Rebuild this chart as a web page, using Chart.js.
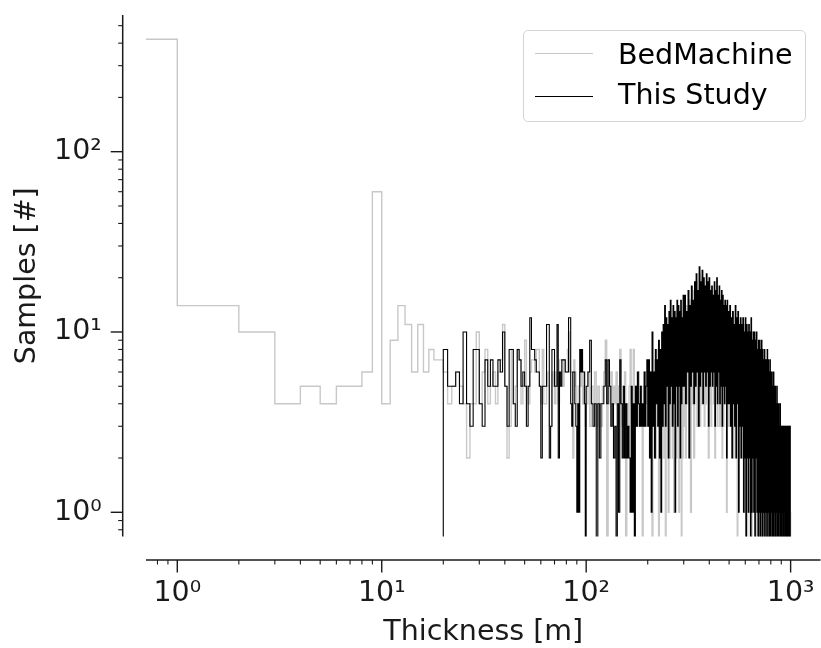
<!DOCTYPE html>
<html>
<head>
<meta charset="utf-8">
<title>Thickness histogram</title>
<script src="https://cdn.jsdelivr.net/npm/chart.js@4.4.1/dist/chart.umd.min.js"></script>
<style>
  html, body { margin:0; padding:0; background:#fff; }
  #wrap { position:relative; width:821px; height:648px; overflow:hidden; }
  #legend { position:absolute; left:523px; top:30px; width:283px; height:92px; box-sizing:border-box;
            border:1.3px solid #d4d4d4; border-radius:5px; background:rgba(255,255,255,0.8);
            font-family:"DejaVu Sans", sans-serif; font-size:28.5px; color:#000; }
  .sw { position:absolute; left:11px; width:58px; height:0; }
  .lab { position:absolute; left:94px; line-height:28px; white-space:nowrap; }
</style>
</head>
<body>
<div id="wrap">
  <canvas id="c" width="821" height="648"></canvas>
  <div id="legend"></div>
</div>
<script>
// ---------------- data ----------------
const seriesNames = ['BedMachine', 'This Study'];
const seriesColors = ['#c8c8c8', '#000000'];

const xTickValues = [1, 10, 100, 1000];
const xTickLabels = ['10⁰', '10¹', '10²', '10³'];
const yTickValues = [1, 10, 100];
const yTickLabels = ['10⁰', '10¹', '10²'];

function range(a, b, s) { const r = []; for (let v = a; v < b; v += s) r.push(v); return r; }
// histogram bin left edges (m); last entry closes the final bin
const binEdges = [].concat(range(0, 100, 1), range(100, 200, 2), range(200, 300, 2),
                           range(300, 500, 3), range(500, 1000, 4), [1000]);

// samples per bin (BedMachine)
const bedMachineCounts = [
  // 0-99 m (1 m bins)
  420,14,10,4,5,4,5,5,6,60,
  4,9,14,11,6,11,6,8,7,7,
  6,4,5,6,5,4,2,4,4,10,
  4,6,8,4,5,6,4,6,7,11,
  5,2,3,8,4,5,8,7,4,5,
  9,5,4,6,7,7,6,8,8,5,
  4,8,4,4,6,5,3,3,6,5,
  4,6,5,4,7,7,7,5,7,6,
  6,8,10,6,6,6,2,7,6,5,
  4,3,5,6,5,7,4,5,6,3,
  // 100-198 m (2 m bins)
  4,6,3,5,4,6,3,5,4,3,
  5,6,9,0,5,4,6,3,5,4,
  6,3,5,8,4,3,5,6,0,4,
  3,5,8,4,2,8,4,5,3,4,
  6,3,5,4,0,5,3,6,4,5,
  // 200-298 m (2 m bins)
  5,3,6,2,4,0,5,3,7,2,
  6,3,8,0,4,6,2,7,3,9,
  2,8,0,10,3,9,1,11,2,10,
  3,11,2,12,1,10,3,13,2,9,
  4,12,1,11,3,13,0,10,2,12,
  // 300-498 m (3 m bins)
  3,12,2,14,4,11,5,15,1,13,
  4,17,2,14,5,19,3,16,6,21,
  3,17,4,20,5,18,3,16,4,19,
  5,17,2,18,4,15,3,17,5,14,
  4,16,2,15,6,18,3,14,5,16,
  3,13,4,15,2,14,3,12,5,13,
  4,12,1,13,3,11,4,
  // 500-996 m (4 m bins)
  3,12,5,11,4,13,2,10,5,12,
  3,11,0,12,4,10,2,11,3,9,
  2,10,4,11,1,9,3,10,0,11,
  2,9,1,10,3,8,0,9,2,10,
  2,8,1,9,0,8,2,7,1,8,
  0,7,2,8,1,7,0,6,2,7,
  1,7,0,6,2,6,0,7,1,5,
  0,5,2,6,1,5,0,4,2,5,
  1,4,0,5,2,4,0,4,1,3,
  2,4,0,3,1,4,2,3,0,3,
  1,3,0,2,2,3,0,3,1,2,
  0,3,1,3,0,2,1,3,0,3,
  1,2,0,3,1
];

// samples per bin (This Study)
const thisStudyCounts = [
  // 0-99 m (1 m bins)
  0,0,0,0,0,0,0,0,0,0,
  0,0,0,0,0,0,0,0,0,0,
  8,5,5,6,4,10,4,3,8,8,
  4,3,7,5,7,5,5,7,6,10,
  5,3,8,8,4,3,8,7,5,6,
  5,3,5,12,8,8,7,6,6,5,
  2,5,5,5,11,11,2,3,8,8,
  5,5,11,2,6,5,7,7,7,6,
  6,6,12,12,4,3,6,6,4,3,
  1,4,1,8,6,8,6,6,4,0,
  // 100-198 m (2 m bins)
  5,6,9,4,3,4,0,4,2,4,
  4,5,7,4,7,5,3,4,2,3,
  0,4,1,7,4,2,5,2,4,2,
  3,2,1,5,1,4,0,5,3,6,
  4,3,5,3,4,3,6,3,5,7,
  // 200-298 m (2 m bins)
  3,7,2,6,1,10,3,6,2,8,
  4,7,3,9,2,8,1,10,3,11,
  4,14,3,12,5,11,2,13,4,15,
  5,12,3,14,4,13,1,12,5,15,
  3,14,5,13,2,15,4,12,5,16,
  // 300-498 m (3 m bins)
  5,16,4,13,6,17,2,14,5,18,
  6,15,4,19,5,21,6,17,3,23,
  5,19,6,22,4,20,6,18,5,21,
  6,19,3,20,5,17,6,18,5,16,
  6,19,3,17,5,20,4,16,6,18,
  4,15,5,17,3,16,5,14,4,15,
  5,14,2,15,4,13,5,
  // 500-996 m (4 m bins)
  4,14,3,12,2,13,4,11,3,14,
  2,12,4,13,1,11,3,12,2,11,
  3,12,1,10,2,12,0,11,2,10,
  1,11,2,10,0,12,1,9,2,10,
  1,10,0,9,2,10,1,8,0,9,
  1,9,0,8,1,9,0,8,1,7,
  0,8,1,7,0,7,1,8,0,7,
  1,6,0,7,0,6,1,6,0,5,
  0,6,1,5,0,5,0,4,1,5,
  0,4,0,4,1,3,0,4,0,3,
  0,3,1,3,0,3,0,3,1,3,
  0,3,0,3,1,3,0,3,0,3,
  1,3,0,3,0
];

// ---------------- layout / style constants ----------------
const X_MIN = 0.703, X_MAX = 1400, Y_MIN = 0.734, Y_MAX = 573;
const FLOOR = 0.3;            // empty bins / zero edge are drawn below the visible range (clipped)
const FONT = '"DejaVu Sans", sans-serif';
const FS = 28.5;
const INK = '#1a1a1a';

function toPoints(counts) {
  const pts = counts.map((c, i) => ({ x: binEdges[i] > 0 ? binEdges[i] : FLOOR, y: c > 0 ? c : FLOOR }));
  pts.push({ x: binEdges[binEdges.length - 1], y: FLOOR });
  return pts;
}

// legend (HTML)
const legendEl = document.getElementById('legend');
seriesNames.forEach((name, i) => {
  const sw = document.createElement('div');
  sw.className = 'sw';
  sw.style.top = (i === 0 ? 22 : 64.5) + 'px';
  sw.style.borderTop = '1.3px solid ' + seriesColors[i];
  legendEl.appendChild(sw);
  const lab = document.createElement('span');
  lab.className = 'lab';
  lab.style.top = (i === 0 ? 10 : 50) + 'px';
  lab.textContent = name;
  legendEl.appendChild(lab);
});

function minorValues(min, max) {
  const out = [];
  for (let k = -2; k <= 4; k++) for (let m = 2; m <= 9; m++) {
    const v = m * Math.pow(10, k);
    if (v >= min && v <= max) out.push(v);
  }
  return out;
}

function noScalePadding(s) { s.paddingTop = 0; s.paddingBottom = 0; s.paddingLeft = 0; s.paddingRight = 0; }

const offsetAxes = {
  id: 'offsetAxes',
  afterDraw(chart) {
    const { ctx, chartArea: a, scales: { x, y } } = chart;
    const sx = a.left - 23.3;   // y spine position
    const sy = a.bottom + 23.5; // x spine position
    ctx.save();
    ctx.strokeStyle = INK;
    ctx.lineWidth = 1.5;
    ctx.beginPath(); ctx.moveTo(sx, a.top); ctx.lineTo(sx, a.bottom); ctx.stroke();
    ctx.beginPath(); ctx.moveTo(a.left, sy); ctx.lineTo(a.right, sy); ctx.stroke();
    ctx.lineWidth = 1.4;
    yTickValues.forEach(v => { const p = y.getPixelForValue(v); ctx.beginPath(); ctx.moveTo(sx, p); ctx.lineTo(sx - 12, p); ctx.stroke(); });
    xTickValues.forEach(v => { const p = x.getPixelForValue(v); ctx.beginPath(); ctx.moveTo(p, sy); ctx.lineTo(p, sy + 12.5); ctx.stroke(); });
    ctx.lineWidth = 1.1;
    minorValues(Y_MIN, Y_MAX).forEach(v => { const p = y.getPixelForValue(v); ctx.beginPath(); ctx.moveTo(sx, p); ctx.lineTo(sx - 4.5, p); ctx.stroke(); });
    minorValues(X_MIN, X_MAX).forEach(v => { const p = x.getPixelForValue(v); ctx.beginPath(); ctx.moveTo(p, sy); ctx.lineTo(p, sy + 4.5); ctx.stroke(); });
    ctx.restore();
  }
};

new Chart(document.getElementById('c'), {
  type: 'line',
  data: {
    datasets: [
      { label: seriesNames[0], data: toPoints(bedMachineCounts), borderColor: seriesColors[0], borderWidth: 1.4,
        stepped: 'before', pointRadius: 0, fill: false, order: 2, clip: 0 },
      { label: seriesNames[1], data: toPoints(thisStudyCounts), borderColor: seriesColors[1], borderWidth: 1.1,
        stepped: 'before', pointRadius: 0, fill: false, order: 1, clip: 0 }
    ]
  },
  options: {
    responsive: false,
    devicePixelRatio: 1,
    animation: false,
    events: [],
    layout: { padding: { top: 15, right: 0.5, left: 0, bottom: 0 } },
    plugins: { legend: { display: false }, tooltip: { enabled: false } },
    scales: {
      x: {
        type: 'logarithmic', min: X_MIN, max: X_MAX, bounds: 'data',
        grid: { display: false, drawTicks: false }, border: { display: false },
        afterBuildTicks: s => { s.ticks = xTickValues.map(v => ({ value: v })); },
        afterFit: s => { s.height = 111.5; noScalePadding(s); },
        ticks: { autoSkip: false, maxRotation: 0, padding: 39.5, color: INK, font: { family: FONT, size: FS },
                 callback: (v, i) => xTickLabels[i] },
        title: { display: true, text: 'Thickness [m]', color: INK, font: { family: FONT, size: FS }, padding: { top: 0, bottom: -2 } }
      },
      y: {
        type: 'logarithmic', min: Y_MIN, max: Y_MAX, bounds: 'data',
        grid: { display: false, drawTicks: false }, border: { display: false },
        afterBuildTicks: s => { s.ticks = yTickValues.map(v => ({ value: v })); },
        afterFit: s => { s.width = 146; noScalePadding(s); },
        ticks: { autoSkip: false, padding: 44.3, color: INK, font: { family: FONT, size: FS },
                 callback: (v, i) => yTickLabels[i] },
        title: { display: true, text: 'Samples [#]', color: INK, font: { family: FONT, size: FS }, padding: { top: 10.2, bottom: 0 } }
      }
    }
  },
  plugins: [offsetAxes]
});
</script>
</body>
</html>
